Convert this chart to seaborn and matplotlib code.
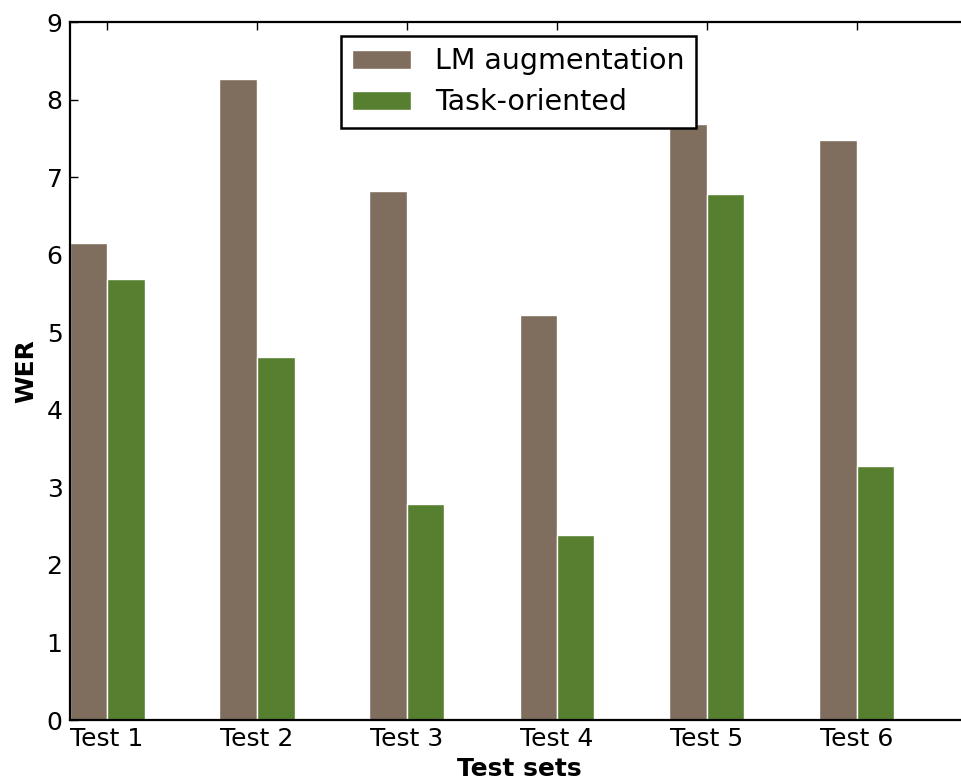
import matplotlib
matplotlib.use("Agg")
import matplotlib.pyplot as plt
import seaborn as sns
import pandas as pd

# WER per test set for the two systems
test_sets = ["Test 1", "Test 2", "Test 3", "Test 4", "Test 5", "Test 6"]
lm_augmentation = [6.15, 8.27, 6.82, 5.22, 7.68, 7.48]
task_oriented = [5.68, 4.68, 2.78, 2.38, 6.78, 3.28]
series_names = ["LM augmentation", "Task-oriented"]
colors = ["#7F6E5E", "#567F30"]

df = pd.DataFrame({
    "Test sets": test_sets * 2,
    "WER": lm_augmentation + task_oriented,
    "System": [series_names[0]] * len(test_sets) + [series_names[1]] * len(test_sets),
})

sns.set_style("ticks")
plt.rcParams["font.family"] = ["DejaVu Sans"]
plt.rcParams["text.color"] = "black"
plt.rcParams["axes.labelcolor"] = "black"
plt.rcParams["xtick.color"] = "black"
plt.rcParams["ytick.color"] = "black"
plt.rcParams["axes.linewidth"] = 1.6
plt.rcParams["xtick.direction"] = "in"
plt.rcParams["ytick.direction"] = "in"

W, H = 962, 783
fig = plt.figure(figsize=(W / 100, H / 100), dpi=100)
left, right, top, bottom = 69.5, 969.5, 22, 720
ax = fig.add_axes([left / W, 1 - bottom / H, (right - left) / W, (bottom - top) / H])

sns.barplot(data=df, x="Test sets", y="WER", hue="System", palette=colors,
            saturation=1, width=0.5, gap=0, edgecolor="white", linewidth=1.0,
            errorbar=None, ax=ax, legend=True, zorder=2)

ax.set_xlim(-0.25, 5.75)
ax.set_ylim(0, 9)
ax.set_yticks(range(0, 10))

for s in ["top", "left", "bottom", "right"]:
    ax.spines[s].set_visible(True)
    ax.spines[s].set_color("black")
    ax.spines[s].set_zorder(5)

ax.tick_params(axis="both", which="major", direction="in", length=6, width=1,
               labelsize=18, pad=5, top=True, right=True, color="black",
               labelcolor="black")
ax.set_xlabel("Test sets", fontsize=18, fontweight="bold", labelpad=4, color="black")
ax.set_ylabel("WER", fontsize=18, fontweight="bold", labelpad=6, color="black")

leg = ax.legend(loc="upper left", bbox_to_anchor=(341 / W, 1 - 36 / H),
                bbox_transform=fig.transFigure, borderaxespad=0,
                fontsize=20.5, frameon=True, fancybox=False, edgecolor="black",
                handlelength=2.05, handleheight=0.65, handletextpad=0.85,
                labelspacing=0.45, borderpad=0.4, title=None)
leg.get_frame().set_linewidth(1.8)
leg.get_frame().set_alpha(1)
for t in leg.get_texts():
    t.set_color("black")

fig.savefig("out.png", dpi=100)
